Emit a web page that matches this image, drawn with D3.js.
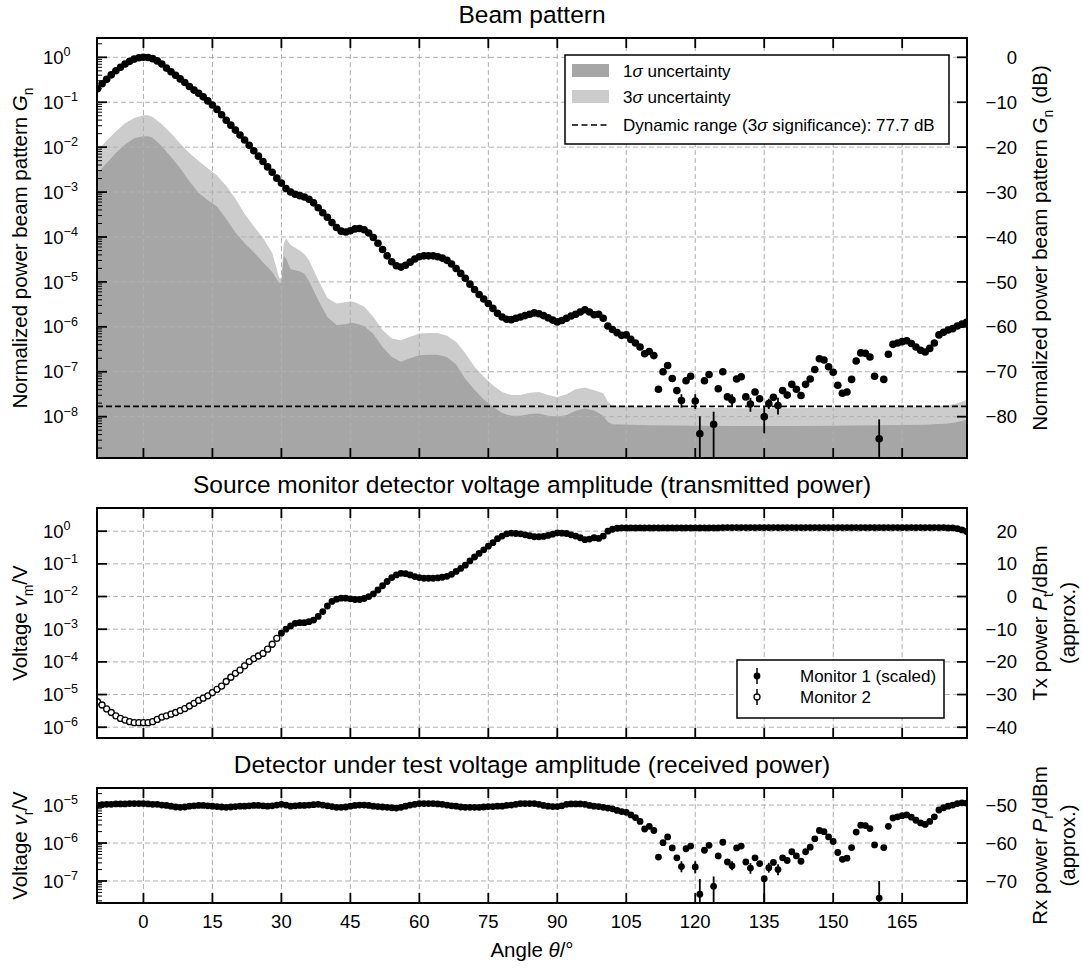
<!DOCTYPE html>
<html>
<head>
<meta charset="utf-8">
<script src="https://cdn.jsdelivr.net/npm/d3@7"></script>
<style>
  body { margin: 0; background: #fff; }
  svg text { font-family: "Liberation Sans", Arial, sans-serif; fill: #000; }
</style>
</head>
<body>
<div id="container"></div>
<script>
// ---------------- DATA ----------------
// angles of the scan, 1 degree steps
var angles = d3.range(-10, 180);

// normalized power beam pattern (dB)
var beamDb = [
  -7.0, -5.9, -4.9, -3.9, -3.0, -2.2, -1.5, -0.9, -0.4, -0.1,
  0.0, -0.05, -0.3, -0.8, -1.5, -2.4, -3.2, -4.0, -4.8, -5.6,
  -6.5, -7.3, -8.0, -8.8, -9.7, -10.6, -11.6, -12.8, -14.0, -15.1,
  -16.2, -17.3, -18.4, -19.6, -20.8, -22.0, -23.2, -24.4, -25.6, -26.9,
  -28.0, -29.2, -30.0, -30.5, -30.8, -31.1, -31.6, -32.4, -33.5, -34.6,
  -35.6, -36.8, -37.9, -38.7, -38.9, -38.6, -38.2, -38.1, -38.4, -39.1,
  -40.1, -41.4, -42.8, -44.2, -45.5, -46.4, -46.7, -46.3, -45.6, -44.9,
  -44.4, -44.2, -44.2, -44.2, -44.4, -44.7, -45.2, -46.0, -47.0, -48.1,
  -49.2, -50.5, -51.7, -52.8, -53.8, -54.8, -55.9, -57.0, -57.8, -58.3,
  -58.4, -58.1, -57.8, -57.5, -57.2, -56.9, -57.1, -57.5, -58.0, -58.5,
  -58.9, -58.6, -58.1, -57.6, -57.2, -56.7, -56.2, -56.7, -57.3, -57.2,
  -58.1, -59.8, -60.6, -61.3, -61.9, -61.8, -62.8, -63.6, -64.5, -66.0,
  -65.5, -66.4, -73.9, -70.0, -68.6, -71.5, -74.2, -76.4, -72.0, -71.0,
  -76.5, -83.8, -72.0, -70.6, -81.7, -73.8, -70.0, -75.6, -76.3, -71.6,
  -71.1, -75.6, -77.2, -74.5, -76.0, -80.0, -77.1, -75.7, -77.5, -74.2,
  -75.2, -72.8, -73.9, -75.3, -72.8, -71.6, -69.5, -67.1, -67.4, -68.9,
  -70.1, -73.0, -74.8, -74.5, -71.7, -67.6, -65.8, -65.9, -66.7, -71.0,
  -84.9, -71.7, -66.1, -63.9, -63.6, -63.3, -63.1, -63.7, -64.5, -65.2,
  -65.6, -64.8, -63.6, -61.8, -61.2, -60.7, -60.4, -59.8, -59.4, -59.0
];

// uncertainty band upper edges (dB)
var bandAngles = [-10, -8, -6, -4, -2, 0, 1, 2, 4, 6, 8, 10, 12, 14, 16, 18, 20, 22, 24, 26, 28, 29.5, 30, 30.5, 31, 32, 34, 35, 36, 38, 40, 42, 44, 45, 46, 48, 50, 52, 54, 56, 58, 60, 62, 64, 66, 68, 70, 72, 74, 76, 78, 80, 82, 84, 86, 88, 90, 92, 94, 96, 98, 100, 101, 102, 110, 120, 130, 140, 150, 160, 170, 175, 177, 179];
var sigma3Db = [-20.7, -18.5, -16.5, -14.7, -13.5, -12.9, -12.9, -13.3, -14.9, -16.9, -19.2, -21.3, -23.1, -24.7, -26.3, -28.6, -31.5, -34.8, -37.6, -40.2, -43.5, -49.0, -49.3, -41.5, -40.3, -41.8, -43.0, -43.8, -45.2, -49.5, -53.6, -54.8, -54.5, -54.3, -54.5, -55.5, -57.8, -60.7, -62.6, -63.0, -62.2, -61.5, -61.4, -61.4, -62.0, -63.3, -65.9, -68.9, -71.1, -73.0, -74.5, -75.2, -75.2, -74.7, -74.5, -75.2, -75.6, -75.0, -73.9, -73.5, -74.1, -74.8, -76.7, -77.6, -77.9, -78.0, -78.1, -78.1, -78.0, -77.9, -77.8, -77.5, -77.0, -76.3];
var sigma1Db = [-25.8, -23.5, -21.3, -19.4, -18.0, -17.6, -17.6, -17.9, -19.8, -22.2, -24.7, -27.6, -30.2, -31.8, -33.2, -36.0, -39.0, -41.4, -43.4, -45.6, -47.8, -50.2, -50.3, -44.3, -44.8, -47.2, -47.6, -48.2, -49.8, -54.0, -57.8, -59.6, -59.4, -59.1, -59.2, -59.8, -61.6, -64.5, -66.7, -67.8, -67.0, -66.3, -66.2, -66.2, -66.7, -68.4, -71.6, -74.0, -76.2, -77.8, -79.2, -79.8, -79.8, -79.4, -79.3, -79.8, -80.0, -79.6, -78.7, -78.2, -78.6, -79.8, -81.2, -81.7, -81.9, -82.0, -82.1, -82.1, -82.0, -81.9, -81.8, -81.5, -81.2, -80.7];
var dynamicRangeDb = -77.7;

// error bars of the beam pattern (dB); -120 means the bar runs below the axis
var beamErrAngles = [117, 120, 121, 124, 128, 132, 135, 136, 138, 160];
var beamErrLow = [-78.0, -78.3, -120, -120, -77.8, -78.9, -83.7, -78.3, -79.5, -120];
var beamErrHigh = [-75.0, -75.0, -79.9, -78.9, -75.0, -75.8, -77.8, -76.0, -75.8, -80.6];

// source monitor: transmitted power (dBm), monitor 2 then monitor 1
var monitor2Angles = d3.range(-10, 30);
var monitor2Dbm = [
  -32.2, -33.2, -34.4, -35.5, -36.5, -37.3, -37.8, -38.3, -38.6, -38.6,
  -38.6, -38.6, -38.3, -37.6, -36.9, -36.5, -36.0, -35.5, -34.9, -34.3,
  -33.5, -32.7, -31.8, -31.1, -30.4, -29.4, -28.4, -27.4, -26.0, -24.7,
  -23.5, -22.5, -21.2, -19.9, -19.0, -18.2, -17.4, -16.1, -14.6, -12.8
];
var monitor1Angles = d3.range(30, 180);
var monitor1Dbm = [
  -11.2, -10.0, -9.0, -8.2, -8.0, -8.0, -7.7, -7.2, -6.1, -4.6,
  -2.9, -1.5, -0.8, -0.5, -0.5, -0.7, -0.9, -0.9, -0.6, 0.0,
  0.8, 2.0, 3.3, 4.6, 5.8, 6.6, 7.1, 7.0, 6.6, 6.1,
  5.8, 5.6, 5.6, 5.6, 5.7, 5.9, 6.2, 6.8, 7.7, 8.6,
  9.6, 10.9, 12.1, 13.2, 14.3, 15.4, 16.5, 17.7, 18.5, 19.2,
  19.4, 19.3, 19.2, 18.9, 18.6, 18.3, 18.3, 18.4, 18.7, 19.1,
  19.5, 19.4, 19.3, 18.9, 18.5, 18.0, 17.4, 17.6, 18.0, 17.8,
  18.5, 20.0, 20.6, 20.9, 21.0, 21.0, 21.0, 21.0, 21.0, 21.0,
  21.0, 21.0, 21.0, 21.0, 21.0, 21.0, 21.0, 21.0, 21.0, 21.0,
  21.0, 21.0, 21.0, 21.0, 21.0, 21.0, 21.1, 21.1, 21.1, 21.1,
  21.1, 21.1, 21.1, 21.1, 21.1, 21.1, 21.1, 21.1, 21.1, 21.1,
  21.1, 21.1, 21.1, 21.1, 21.1, 21.1, 21.1, 21.1, 21.1, 21.1,
  21.1, 21.1, 21.1, 21.1, 21.1, 21.1, 21.1, 21.1, 21.1, 21.1,
  21.1, 21.1, 21.1, 21.1, 21.1, 21.1, 21.1, 21.1, 21.1, 21.1,
  21.1, 21.1, 21.1, 21.1, 21.1, 21.0, 21.0, 20.8, 20.4, 19.9
];

// detector under test: received power (dBm)
var rxDbm = [
  -50.0, -49.9, -49.8, -49.8, -49.7, -49.7, -49.7, -49.6, -49.6, -49.6,
  -49.6, -49.7, -49.8, -49.8, -50.0, -50.1, -50.3, -50.5, -50.6, -50.5,
  -50.3, -50.2, -50.1, -50.1, -50.2, -50.3, -50.4, -50.5, -50.6, -50.5,
  -50.4, -50.3, -50.3, -50.2, -50.1, -50.1, -50.2, -50.3, -50.2, -50.0,
  -49.8, -50.0, -50.3, -50.2, -50.1, -50.1, -50.0, -49.9, -49.8, -50.0,
  -50.2, -50.4, -50.6, -50.6, -50.5, -50.3, -50.1, -50.0, -50.0, -50.1,
  -50.3, -50.4, -50.5, -50.6, -50.7, -50.8, -50.6, -50.3, -50.0, -49.8,
  -49.6, -49.6, -49.6, -49.6, -49.7, -49.8, -50.0, -50.2, -50.3, -50.5,
  -50.6, -50.6, -50.6, -50.6, -50.5, -50.4, -50.4, -50.3, -50.3, -50.1,
  -50.0, -49.8, -49.6, -49.6, -49.6, -49.6, -49.8, -50.1, -50.3, -50.4,
  -50.4, -50.2, -49.8, -49.7, -49.7, -49.7, -49.8, -50.1, -50.3, -50.4,
  -50.6, -50.8, -51.0, -51.4, -51.7, -51.9, -52.6, -53.3, -54.3, -56.3,
  -55.6, -56.7, -63.7, -59.9, -58.4, -61.3, -63.9, -66.2, -61.5, -60.8,
  -66.3, -73.5, -61.9, -60.6, -71.4, -63.4, -59.8, -65.0, -66.0, -61.3,
  -60.8, -65.0, -66.6, -63.9, -65.4, -69.4, -66.5, -65.1, -67.0, -63.9,
  -64.6, -62.3, -63.4, -64.8, -62.3, -61.1, -58.9, -56.7, -57.0, -58.4,
  -59.6, -62.5, -64.3, -64.0, -61.2, -57.1, -55.3, -55.4, -56.2, -60.5,
  -74.5, -61.2, -55.6, -53.4, -53.1, -52.8, -52.6, -53.2, -54.0, -54.7,
  -55.1, -54.3, -53.1, -51.3, -50.7, -50.3, -50.0, -49.6, -49.4, -49.5
];
var rxErrAngles = [117, 120, 121, 124, 128, 132, 135, 136, 138, 160];
var rxErrLow = [-67.7, -68.0, -120, -120, -67.2, -68.1, -120, -67.8, -68.5, -120];
var rxErrHigh = [-64.8, -64.8, -69.5, -68.8, -64.8, -65.3, -68.8, -65.2, -65.6, -70.0];

var xTicks = [0, 15, 30, 45, 60, 75, 90, 105, 120, 135, 150, 165];

// ---------------- LAYOUT ----------------
var plotLeft = 97, plotRight = 967;
var tickFont = 18.5, titleFont = 24.5, labelFont = 20.5, legendFont = 17;
var gridColor = "#b0b0b0", darkBand = "#a6a6a6", lightBand = "#cccccc";

var svg = d3.select("div#container")
    .append("svg")
    .attr("width", 1083)
    .attr("height", 969);

var x = d3.scaleLinear().domain([-10.1, 179.1]).range([plotLeft, plotRight]);

// text with italic / subscript / superscript pieces
function rich(sel, parts, size) {
    var shift = 0;
    parts.forEach(function (p) {
        var ts = sel.append("tspan").text(p.t);
        if (p.i) ts.attr("font-style", "italic");
        var want = p.sub ? size * 0.28 : (p.sup ? -size * 0.42 : 0);
        if (want !== shift) { ts.attr("dy", want - shift); shift = want; }
        if (p.sub || p.sup) ts.attr("font-size", size * 0.68);
    });
    return sel;
}

var clipId = 0;
function makePanel(p) {
    var g = svg.append("g");
    // right axis in dB units, left axis as voltage on a log scale
    var yR = d3.scaleLinear().domain(p.dbDomain).range([p.bottom, p.top]);
    var yL = d3.scaleLog()
        .domain(p.dbDomain.map(function (d) { return Math.pow(10, (d - p.dbAtUnit) / 10); }))
        .range([p.bottom, p.top]);

    clipId++;
    svg.append("clipPath").attr("id", "clip" + clipId)
        .append("rect")
        .attr("x", plotLeft).attr("y", p.top)
        .attr("width", plotRight - plotLeft).attr("height", p.bottom - p.top);
    var inner = g.append("g").attr("clip-path", "url(#clip" + clipId + ")");

    return { g: g, inner: inner, yR: yR, yL: yL, p: p };
}

function finishPanel(P) {
    var p = P.p, g = P.g, yL = P.yL, yR = P.yR;
    var majors = p.majorExps;

    // grid
    var grid = P.gridLayer;
    grid.selectAll("line.hg").data(majors).enter().append("line")
        .attr("x1", plotLeft).attr("x2", plotRight)
        .attr("y1", function (e) { return yL(Math.pow(10, e)); })
        .attr("y2", function (e) { return yL(Math.pow(10, e)); })
        .attr("stroke", gridColor).attr("stroke-width", 1).attr("stroke-dasharray", "5,3");
    grid.selectAll("line.vg").data(xTicks).enter().append("line")
        .attr("x1", function (d) { return x(d); }).attr("x2", function (d) { return x(d); })
        .attr("y1", p.top).attr("y2", p.bottom)
        .attr("stroke", gridColor).attr("stroke-width", 1).attr("stroke-dasharray", "5,3");

    // x ticks top and bottom (inward)
    xTicks.forEach(function (t) {
        g.append("line").attr("x1", x(t)).attr("x2", x(t)).attr("y1", p.top).attr("y2", p.top + 10)
            .attr("stroke", "#000").attr("stroke-width", 1.8);
        g.append("line").attr("x1", x(t)).attr("x2", x(t)).attr("y1", p.bottom).attr("y2", p.bottom - 10)
            .attr("stroke", "#000").attr("stroke-width", 1.8);
    });

    // left major ticks + labels
    majors.forEach(function (e) {
        var yy = yL(Math.pow(10, e));
        g.append("line").attr("x1", plotLeft).attr("x2", plotLeft + 10).attr("y1", yy).attr("y2", yy)
            .attr("stroke", "#000").attr("stroke-width", 1.8);
        var txt = g.append("text").attr("x", 43).attr("y", yy + 6.6).attr("font-size", tickFont);
        rich(txt, [{ t: "10" }, { t: (e < 0 ? "\u2212" : "") + Math.abs(e), sup: true }], tickFont);
    });

    // left minor ticks
    if (p.minor) {
        var lo = Math.floor(Math.log10(yL.domain()[0])), hi = Math.ceil(Math.log10(yL.domain()[1]));
        for (var e = lo; e < hi; e++) {
            for (var m = 2; m <= 9; m++) {
                var v = m * Math.pow(10, e);
                if (v < yL.domain()[0] || v > yL.domain()[1]) continue;
                var yy = yL(v);
                g.append("line").attr("x1", plotLeft).attr("x2", plotLeft + 5).attr("y1", yy).attr("y2", yy)
                    .attr("stroke", "#000").attr("stroke-width", 1);
            }
        }
    }

    // right ticks + labels
    p.rightTicks.forEach(function (v) {
        var yy = yR(v);
        g.append("line").attr("x1", plotRight).attr("x2", plotRight - 10).attr("y1", yy).attr("y2", yy)
            .attr("stroke", "#000").attr("stroke-width", 1.8);
        g.append("text").attr("x", 1017).attr("y", yy + 6.6).attr("font-size", tickFont)
            .attr("text-anchor", "end").text((v < 0 ? "\u2212" : "") + Math.abs(v));
    });

    // frame
    g.append("rect").attr("x", plotLeft).attr("y", p.top)
        .attr("width", plotRight - plotLeft).attr("height", p.bottom - p.top)
        .attr("fill", "none").attr("stroke", "#000").attr("stroke-width", 2);

    // title
    g.append("text").attr("x", (plotLeft + plotRight) / 2).attr("y", p.top - 15)
        .attr("font-size", titleFont).attr("text-anchor", "middle").text(p.title);

    // left label
    var cy = (p.top + p.bottom) / 2;
    var ll = g.append("text").attr("transform", "translate(27," + cy + ") rotate(-90)")
        .attr("text-anchor", "middle").attr("font-size", labelFont);
    rich(ll, p.leftLabel, labelFont);

    // right label (one or two lines)
    p.rightLabel.forEach(function (line, i) {
        var t = g.append("text")
            .attr("transform", "translate(" + (1047 + i * 28) + "," + cy + ") rotate(-90)")
            .attr("text-anchor", "middle").attr("font-size", labelFont);
        rich(t, line, labelFont);
    });
}

function errorBars(P, ang, lo, hi) {
    P.inner.selectAll(null).data(ang).enter().append("line")
        .attr("x1", function (d) { return x(d); }).attr("x2", function (d) { return x(d); })
        .attr("y1", function (d, i) { return P.yR(lo[i]); })
        .attr("y2", function (d, i) { return P.yR(hi[i]); })
        .attr("stroke", "#000").attr("stroke-width", 1.8);
}

function dots(P, ang, vals, r, open) {
    P.inner.selectAll(null).data(ang).enter().append("circle")
        .attr("cx", function (d) { return x(d); })
        .attr("cy", function (d, i) { return P.yR(vals[i]); })
        .attr("r", r)
        .attr("fill", open ? "#fff" : "#000")
        .attr("stroke", "#000").attr("stroke-width", open ? 1.3 : 0);
}

// ---------------- PANEL 1: beam pattern ----------------
var P1 = makePanel({
    top: 38, bottom: 458, dbDomain: [-89.2, 4.3], dbAtUnit: 0,
    majorExps: [0, -1, -2, -3, -4, -5, -6, -7, -8], minor: true,
    rightTicks: [0, -10, -20, -30, -40, -50, -60, -70, -80],
    title: "Beam pattern",
    leftLabel: [{ t: "Normalized power beam pattern " }, { t: "G", i: true }, { t: "n", sub: true }],
    rightLabel: [[{ t: "Normalized power beam pattern " }, { t: "G", i: true }, { t: "n", sub: true }, { t: " (dB)" }]]
});

var bandArea = function (vals) {
    return d3.area()
        .x(function (d) { return x(d); })
        .y0(P1.p.bottom)
        .y1(function (d, i) { return P1.yR(vals[i]); })(bandAngles);
};
P1.inner.append("path").attr("d", bandArea(sigma3Db)).attr("fill", lightBand);
P1.inner.append("path").attr("d", bandArea(sigma1Db)).attr("fill", darkBand);
P1.gridLayer = P1.inner.append("g");
P1.inner.append("line")
    .attr("x1", plotLeft).attr("x2", plotRight)
    .attr("y1", P1.yR(dynamicRangeDb)).attr("y2", P1.yR(dynamicRangeDb))
    .attr("stroke", "#000").attr("stroke-width", 1.6).attr("stroke-dasharray", "6,3");
errorBars(P1, beamErrAngles, beamErrLow, beamErrHigh);
dots(P1, angles, beamDb, 3.8, false);
finishPanel(P1);

// legend 1
var lg1 = P1.g.append("g");
lg1.append("rect").attr("x", 565).attr("y", 55).attr("width", 384).attr("height", 89)
    .attr("fill", "#fff").attr("stroke", "#000").attr("stroke-width", 1.5);
lg1.append("rect").attr("x", 572).attr("y", 64).attr("width", 37).attr("height", 13).attr("fill", darkBand);
lg1.append("rect").attr("x", 572).attr("y", 90).attr("width", 37).attr("height", 13).attr("fill", lightBand);
lg1.append("line").attr("x1", 572).attr("x2", 609).attr("y1", 125).attr("y2", 125)
    .attr("stroke", "#000").attr("stroke-width", 1.6).attr("stroke-dasharray", "6,3.5");
rich(lg1.append("text").attr("x", 623).attr("y", 77).attr("font-size", legendFont),
    [{ t: "1" }, { t: "\u03c3", i: true }, { t: " uncertainty" }], legendFont);
rich(lg1.append("text").attr("x", 623).attr("y", 103).attr("font-size", legendFont),
    [{ t: "3" }, { t: "\u03c3", i: true }, { t: " uncertainty" }], legendFont);
rich(lg1.append("text").attr("x", 623).attr("y", 131).attr("font-size", legendFont),
    [{ t: "Dynamic range (3" }, { t: "\u03c3", i: true }, { t: " significance): 77.7 dB" }], legendFont);

// ---------------- PANEL 2: source monitor ----------------
var P2 = makePanel({
    top: 508, bottom: 738, dbDomain: [-43.3, 27.1], dbAtUnit: 20,
    majorExps: [0, -1, -2, -3, -4, -5, -6], minor: false,
    rightTicks: [20, 10, 0, -10, -20, -30, -40],
    title: "Source monitor detector voltage amplitude (transmitted power)",
    leftLabel: [{ t: "Voltage " }, { t: "v", i: true }, { t: "m", sub: true }, { t: "/V" }],
    rightLabel: [
        [{ t: "Tx power " }, { t: "P", i: true }, { t: "t", sub: true }, { t: "/dBm" }],
        [{ t: "(approx.)" }]
    ]
});
P2.gridLayer = P2.inner.append("g");
dots(P2, monitor1Angles, monitor1Dbm, 3.4, false);
dots(P2, monitor2Angles, monitor2Dbm, 3.0, true);
finishPanel(P2);

// legend 2
var lg2 = P2.g.append("g");
lg2.append("rect").attr("x", 737).attr("y", 660).attr("width", 207).attr("height", 58)
    .attr("fill", "#fff").attr("stroke", "#000").attr("stroke-width", 1.5);
lg2.append("line").attr("x1", 757).attr("x2", 757).attr("y1", 668).attr("y2", 684)
    .attr("stroke", "#000").attr("stroke-width", 1.5);
lg2.append("circle").attr("cx", 757).attr("cy", 676).attr("r", 3.4).attr("fill", "#000");
lg2.append("line").attr("x1", 757).attr("x2", 757).attr("y1", 689).attr("y2", 705)
    .attr("stroke", "#000").attr("stroke-width", 1.5);
lg2.append("circle").attr("cx", 757).attr("cy", 697).attr("r", 3.0).attr("fill", "#fff")
    .attr("stroke", "#000").attr("stroke-width", 1.3);
lg2.append("text").attr("x", 800).attr("y", 682).attr("font-size", legendFont).text("Monitor 1 (scaled)");
lg2.append("text").attr("x", 800).attr("y", 703).attr("font-size", legendFont).text("Monitor 2");

// ---------------- PANEL 3: detector under test ----------------
var P3 = makePanel({
    top: 788, bottom: 903, dbDomain: [-75.8, -45.5], dbAtUnit: 0,
    majorExps: [-5, -6, -7], minor: true,
    rightTicks: [-50, -60, -70],
    title: "Detector under test voltage amplitude (received power)",
    leftLabel: [{ t: "Voltage " }, { t: "v", i: true }, { t: "r", sub: true }, { t: "/V" }],
    rightLabel: [
        [{ t: "Rx power " }, { t: "P", i: true }, { t: "r", sub: true }, { t: "/dBm" }],
        [{ t: "(approx.)" }]
    ]
});
P3.gridLayer = P3.inner.append("g");
errorBars(P3, rxErrAngles, rxErrLow, rxErrHigh);
dots(P3, angles, rxDbm, 3.4, false);
finishPanel(P3);

// bottom tick labels and x label
P3.g.selectAll("text.xt").data(xTicks).enter().append("text")
    .attr("x", function (d) { return x(d); }).attr("y", 928)
    .attr("text-anchor", "middle").attr("font-size", tickFont)
    .text(function (d) { return d; });
rich(P3.g.append("text").attr("x", (plotLeft + plotRight) / 2).attr("y", 957)
    .attr("text-anchor", "middle").attr("font-size", labelFont),
    [{ t: "Angle " }, { t: "\u03b8", i: true }, { t: "/\u00b0" }], labelFont);
</script>
</body>
</html>
